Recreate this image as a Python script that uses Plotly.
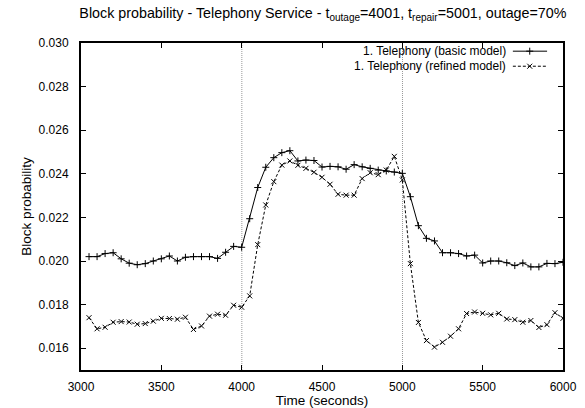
import plotly.graph_objects as go

# ---- data ----
time_s = [3050 + 50 * i for i in range(60)]  # 3050 .. 6000

basic_model = [
    0.0202, 0.0202, 0.02034, 0.02038, 0.0201, 0.0199, 0.01983, 0.01988, 0.0200, 0.0201,
    0.02023, 0.0200, 0.02017, 0.0202, 0.0202, 0.0202, 0.02012, 0.0204, 0.02067, 0.02063,
    0.02194, 0.02337, 0.0243, 0.02474, 0.02497, 0.02506, 0.02459, 0.02463, 0.02461, 0.02431,
    0.02434, 0.02432, 0.02421, 0.02442, 0.02432, 0.02425, 0.02417, 0.02413, 0.02408, 0.02402,
    0.02295, 0.02162, 0.02104, 0.02092, 0.02038, 0.02038, 0.02034, 0.02023, 0.02027, 0.01991,
    0.0200, 0.0200, 0.01992, 0.01979, 0.01991, 0.01973, 0.01973, 0.01989, 0.01988, 0.01994,
]

refined_model = [
    0.0174, 0.01689, 0.01696, 0.01719, 0.01722, 0.0172, 0.0171, 0.01713, 0.01724, 0.01737,
    0.01736, 0.01733, 0.01742, 0.01686, 0.01702, 0.01747, 0.01756, 0.01751, 0.01797, 0.01788,
    0.0184, 0.02075, 0.02257, 0.02364, 0.0244, 0.02459, 0.02439, 0.02425, 0.02407, 0.02384,
    0.02352, 0.02306, 0.02302, 0.02302, 0.02378, 0.02405, 0.02396, 0.02417, 0.0248, 0.02372,
    0.01988, 0.01718, 0.01635, 0.01605, 0.01627, 0.01655, 0.01689, 0.01759, 0.01766, 0.0176,
    0.01753, 0.0176, 0.01734, 0.01731, 0.01719, 0.01727, 0.01695, 0.01708, 0.01763, 0.01737,
]

series_names = ["1. Telephony (basic model)", "1. Telephony (refined model)"]
event_times = [4001, 5001]  # t_outage, t_repair
x_ticks = [3000, 3500, 4000, 4500, 5000, 5500, 6000]
y_ticks = [0.016, 0.018, 0.020, 0.022, 0.024, 0.026, 0.028, 0.030]

FONT = "Liberation Sans, Arial, sans-serif"
DASH = "3px,2px"
MARK = 5

fig = go.Figure()
fig.add_trace(go.Scatter(
    x=time_s, y=basic_model, mode="lines+markers", name=series_names[0],
    line=dict(color="black", width=1),
    marker=dict(symbol="cross-thin", size=MARK, color="black", line=dict(color="black", width=1)),
    showlegend=False,
))
fig.add_trace(go.Scatter(
    x=time_s, y=refined_model, mode="lines+markers", name=series_names[1],
    line=dict(color="black", width=1, dash=DASH),
    marker=dict(symbol="x-thin", size=MARK, color="black", line=dict(color="black", width=1)),
    showlegend=False,
))

# custom key (text left, sample right) drawn on an overlay axis in plot-area fractions
key_rows_y = [0.975, 0.929]
key_text_x = 0.886
key_sample_x = [0.896, 0.931, 0.967]
for nm, ry, dash, sym in zip(series_names, key_rows_y, ["solid", DASH], ["cross-thin", "x-thin"]):
    fig.add_trace(go.Scatter(
        x=key_sample_x, y=[ry] * 3, xaxis="x2", yaxis="y2",
        mode="lines", line=dict(color="black", width=1, dash=dash),
        showlegend=False, hoverinfo="skip",
    ))
    fig.add_trace(go.Scatter(
        x=[key_sample_x[1]], y=[ry], xaxis="x2", yaxis="y2", mode="markers",
        marker=dict(symbol=sym, size=MARK, color="black", line=dict(color="black", width=1)),
        showlegend=False, hoverinfo="skip",
    ))
    fig.add_annotation(
        text=nm, xref="paper", yref="paper", x=key_text_x, y=ry,
        xanchor="right", yanchor="middle", showarrow=False,
        font=dict(family=FONT, size=12, color="black"),
    )

for t in event_times:
    fig.add_shape(type="line", xref="x", yref="paper", x0=t, x1=t, y0=0, y1=1,
                  line=dict(color="#999999", width=1, dash="1px,1px"), layer="below")

fig.update_layout(
    width=585, height=408,
    margin=dict(l=81, r=22, t=43, b=38, autoexpand=False),
    paper_bgcolor="white", plot_bgcolor="white",
    font=dict(family=FONT, size=12, color="black"),
    title=dict(
        text="Block probability - Telephony Service - t<sub>outage</sub>=4001, t<sub>repair</sub>=5001, outage=70%",
        x=0.552, xanchor="center", y=0.968, yanchor="middle",
        font=dict(family=FONT, size=14.3, color="black"),
    ),
    xaxis=dict(
        range=[3000, 6000], tickvals=x_ticks, ticktext=[str(v) for v in x_ticks],
        ticks="inside", ticklen=5, tickcolor="black", tickwidth=1,
        showline=True, linecolor="black", linewidth=2, mirror="ticks",
        showgrid=False, zeroline=False, ticklabelstandoff=5, automargin=False,
        title=dict(text="Time (seconds)", standoff=0, font=dict(size=13.5)),
    ),
    yaxis=dict(
        range=[0.015, 0.030], tickvals=y_ticks, ticktext=[f"{v:.3f}" for v in y_ticks],
        ticks="inside", ticklen=5, tickcolor="black", tickwidth=1,
        showline=True, linecolor="black", linewidth=2, mirror="ticks",
        showgrid=False, zeroline=False, ticklabelstandoff=8, automargin=False,
        title=dict(text="Block probability", standoff=4, font=dict(size=13.5)),
    ),
    xaxis2=dict(domain=[0, 1], range=[0, 1], visible=False, anchor="y2", overlaying="x", fixedrange=True),
    yaxis2=dict(domain=[0, 1], range=[0, 1], visible=False, anchor="x2", overlaying="y", fixedrange=True),
)

fig.write_html(
    "out.html",
    config={"displayModeBar": False},
    post_script="document.body.style.margin='0px';",
)
